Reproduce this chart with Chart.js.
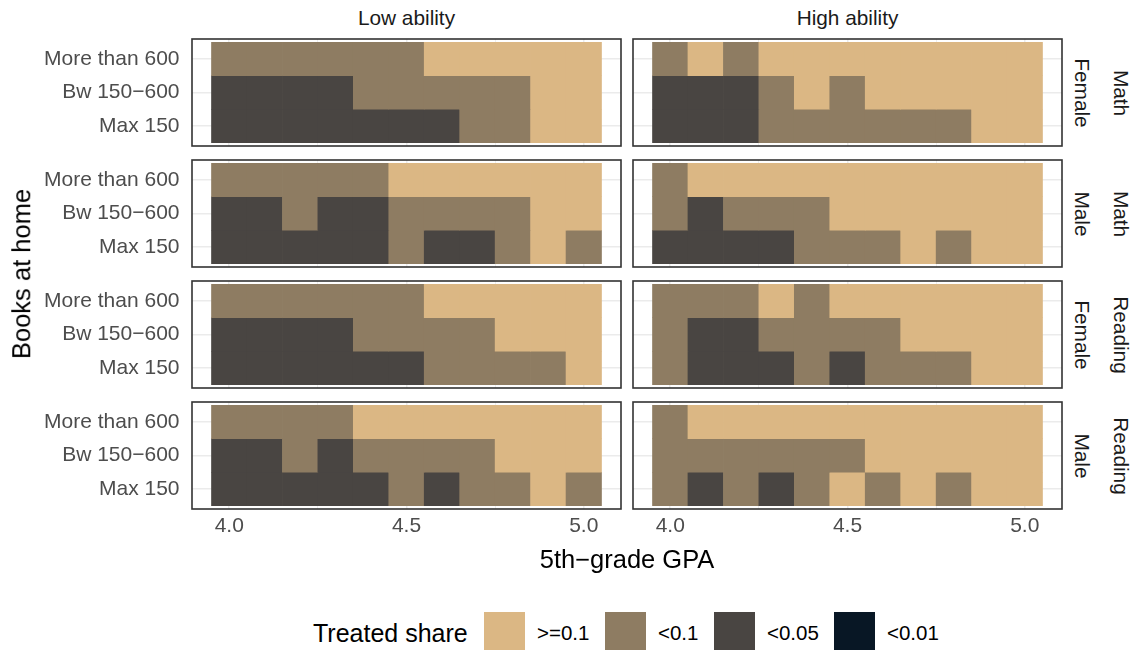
<!DOCTYPE html>
<html>
<head>
<meta charset="utf-8">
<script src="https://cdn.jsdelivr.net/npm/chart.js@4/dist/chart.umd.min.js"></script>
<style>
html,body{margin:0;padding:0;background:#fff;width:1137px;height:650px;overflow:hidden;}
#root{position:relative;width:1137px;height:650px;overflow:hidden;font-family:"Liberation Sans",Arial,Helvetica,sans-serif;}
#root canvas{position:absolute;}
.t{position:absolute;white-space:nowrap;line-height:1;}
.box{position:absolute;}
</style>
</head>
<body>
<div id="root"></div>
<script>
// ---------------- data ----------------
const gpa = [4.0, 4.1, 4.2, 4.3, 4.4, 4.5, 4.6, 4.7, 4.8, 4.9, 5.0];
const gpaTickValues = [4.0, 4.25, 4.5, 4.75, 5.0];
const gpaTickLabels = ["4.0", "", "4.5", "", "5.0"];
const bookLevels = ["More than 600", "Bw 150\u2212600", "Max 150"];
const bookPos = [3, 2, 1];
const shareClasses = [">=0.1", "<0.1", "<0.05", "<0.01"];
const shareColors = ["#DBB784", "#8E7C62", "#494542", "#081725"];
const abilityLabels = ["Low ability", "High ability"];
const subjectLabels = ["Math", "Math", "Reading", "Reading"];
const genderLabels = ["Female", "Male", "Female", "Male"];

// class index per cell (0 ">=0.1", 1 "<0.1", 2 "<0.05", 3 "<0.01"); rows follow bookLevels
const mathFemaleLow = [
  [1,1,1,1,1,1,0,0,0,0,0],
  [2,2,2,2,1,1,1,1,1,0,0],
  [2,2,2,2,2,2,2,1,1,0,0]
];
const mathFemaleHigh = [
  [1,0,1,0,0,0,0,0,0,0,0],
  [2,2,2,1,0,1,0,0,0,0,0],
  [2,2,2,1,1,1,1,1,1,0,0]
];
const mathMaleLow = [
  [1,1,1,1,1,0,0,0,0,0,0],
  [2,2,1,2,2,1,1,1,1,0,0],
  [2,2,2,2,2,1,2,2,1,0,1]
];
const mathMaleHigh = [
  [1,0,0,0,0,0,0,0,0,0,0],
  [1,2,1,1,1,0,0,0,0,0,0],
  [2,2,2,2,1,1,1,0,1,0,0]
];
const readingFemaleLow = [
  [1,1,1,1,1,1,0,0,0,0,0],
  [2,2,2,2,1,1,1,1,0,0,0],
  [2,2,2,2,2,2,1,1,1,1,0]
];
const readingFemaleHigh = [
  [1,1,1,0,1,0,0,0,0,0,0],
  [1,2,2,1,1,1,1,0,0,0,0],
  [1,2,2,2,1,2,1,1,1,0,0]
];
const readingMaleLow = [
  [1,1,1,1,0,0,0,0,0,0,0],
  [2,2,1,2,1,1,1,1,0,0,0],
  [2,2,2,2,2,1,2,1,1,0,1]
];
const readingMaleHigh = [
  [1,0,0,0,0,0,0,0,0,0,0],
  [1,1,1,1,1,1,0,0,0,0,0],
  [1,2,1,2,1,0,1,0,1,0,0]
];
const panelGrids = [
  [mathFemaleLow, mathFemaleHigh],
  [mathMaleLow, mathMaleHigh],
  [readingFemaleLow, readingFemaleHigh],
  [readingMaleLow, readingMaleHigh]
];

// ---------------- layout ----------------
const FONT = '"Liberation Sans", Arial, Helvetica, sans-serif';
const TICK_SIZE = 21;
const L = { colX: [192, 633], rowY: [39, 160, 281, 402], panelW: 429, panelH: 107, yAxisW: 190, xAxisH: 36, pad: 2 };
const tileW = gpa[1] - gpa[0];
const xLo = gpa[0] - tileW / 2, xHi = gpa[gpa.length - 1] + tileW / 2;
const xExp = (xHi - xLo) * 0.05;
const yMin = Math.min(...bookPos) - 0.6, yMax = Math.max(...bookPos) + 0.6;
const isMajor = v => Math.abs(v * 2 - Math.round(v * 2)) < 1e-9;

const root = document.getElementById('root');

const panelBorder = {
  id: 'panelBorder',
  afterDraw(chart) {
    const { ctx, chartArea: a } = chart;
    ctx.save();
    ctx.strokeStyle = '#333333';
    ctx.lineWidth = 1.6;
    ctx.strokeRect(a.left, a.top, a.right - a.left, a.bottom - a.top);
    ctx.restore();
  }
};

function makePanel(row, col) {
  const grid = panelGrids[row][col];
  const showY = col === 0, showX = row === panelGrids.length - 1;
  const P = L.pad;
  const w = P + (showY ? L.yAxisW : 0) + L.panelW + P;
  const h = P + L.panelH + (showX ? L.xAxisH : 0) + P;
  const c = document.createElement('canvas');
  c.width = w; c.height = h;
  c.style.width = w + 'px'; c.style.height = h + 'px';
  c.style.left = (L.colX[col] - (showY ? L.yAxisW : 0) - P) + 'px';
  c.style.top = (L.rowY[row] - P) + 'px';
  root.appendChild(c);

  new Chart(c, {
    type: 'bar',
    data: {
      datasets: bookLevels.map((lvl, r) => ({
        label: lvl,
        data: gpa.map(g => ({ x: [g - tileW / 2, g + tileW / 2], y: bookPos[r] })),
        backgroundColor: grid[r].map(k => shareColors[k]),
        borderWidth: 0,
        grouped: false,
        barPercentage: 1,
        categoryPercentage: 1
      }))
    },
    options: {
      indexAxis: 'y',
      responsive: false,
      animation: false,
      devicePixelRatio: 1,
      layout: { padding: P },
      plugins: { legend: { display: false }, tooltip: { enabled: false } },
      scales: {
        x: {
          type: 'linear', position: 'bottom',
          min: xLo - xExp, max: xHi + xExp,
          offset: false,
          afterBuildTicks: a => { a.ticks = gpaTickValues.map(v => ({ value: v })); },
          afterFit: a => { a.height = showX ? L.xAxisH : 0; a.paddingLeft = 0; a.paddingRight = 0; },
          grid: { color: '#EBEBEB', lineWidth: ctx => (ctx.tick && isMajor(ctx.tick.value)) ? 1.5 : 0.8, drawTicks: false, offset: false },
          border: { display: false },
          ticks: {
            display: showX, autoSkip: false, maxRotation: 0, minRotation: 0, padding: 7,
            color: '#4D4D4D', font: { family: FONT, size: TICK_SIZE, lineHeight: 1 },
            callback: v => gpaTickLabels[gpaTickValues.findIndex(t => Math.abs(t - v) < 1e-9)] ?? ''
          }
        },
        y: {
          type: 'linear', position: 'left',
          min: yMin, max: yMax,
          offset: false,
          afterBuildTicks: a => { a.ticks = bookPos.map(v => ({ value: v })); },
          afterFit: a => { a.width = showY ? L.yAxisW : 0; a.paddingTop = 0; a.paddingBottom = 0; },
          grid: { color: '#EBEBEB', lineWidth: 1.5, drawTicks: false, offset: false },
          border: { display: false },
          ticks: {
            display: showY, autoSkip: false, padding: 12.5,
            color: '#4D4D4D', font: { family: FONT, size: TICK_SIZE, lineHeight: 1 },
            callback: v => bookLevels[bookPos.indexOf(v)] ?? ''
          }
        }
      }
    },
    plugins: [panelBorder]
  });
}

for (let r = 0; r < panelGrids.length; r++) for (let c = 0; c < 2; c++) makePanel(r, c);

// ---------------- text ----------------
function addText(txt, x, y, size, color, opts = {}) {
  const d = document.createElement('div');
  d.className = 't';
  d.textContent = txt;
  d.style.left = x + 'px';
  d.style.top = y + 'px';
  d.style.fontSize = size + 'px';
  d.style.color = color;
  const tx = opts.left ? '0' : '-50%';
  d.style.transform = `translate(${tx},-50%)` + (opts.rot ? ` rotate(${opts.rot}deg)` : '');
  root.appendChild(d);
}

// column strips
abilityLabels.forEach((lab, c) => addText(lab, L.colX[c] + L.panelW / 2, 18, 20.8, '#1A1A1A'));
// row strips
for (let r = 0; r < 4; r++) {
  const cy = L.rowY[r] + L.panelH / 2;
  addText(genderLabels[r], 1082, cy, 20.8, '#1A1A1A', { rot: 90 });
  addText(subjectLabels[r], 1121, cy, 20.8, '#1A1A1A', { rot: 90 });
}
// axis titles
addText('Books at home', 22, (L.rowY[0] + L.rowY[3] + L.panelH) / 2, 25.5, '#000000', { rot: -90 });
addText('5th\u2212grade GPA', (L.colX[0] + L.colX[1] + L.panelW) / 2, 560, 25.5, '#000000');

// legend
addText('Treated share', 313, 633, 25, '#000000', { left: true });
const legBoxX = [484, 605, 714, 834];
shareClasses.forEach((lab, i) => {
  const b = document.createElement('div');
  b.className = 'box';
  b.style.left = legBoxX[i] + 'px';
  b.style.top = '612px';
  b.style.width = '41px';
  b.style.height = '41px';
  b.style.background = shareColors[i];
  root.appendChild(b);
  addText(lab, legBoxX[i] + 53, 633, 20.5, '#000000', { left: true });
});
</script>
</body>
</html>
